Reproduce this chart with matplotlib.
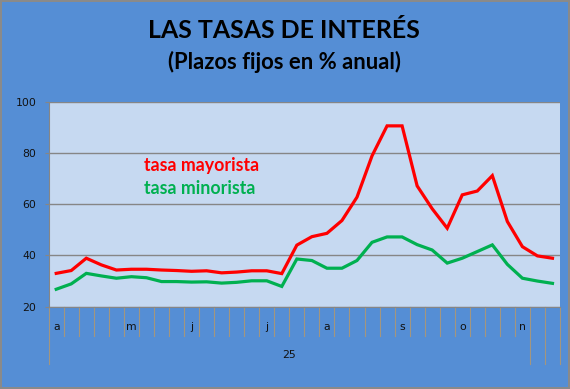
import matplotlib
matplotlib.use("Agg")
import matplotlib.pyplot as plt
from matplotlib.lines import Line2D

# ---- data ----
mayorista = [33.0, 34.1, 38.9, 36.3, 34.3, 34.6, 34.6, 34.3, 34.1, 33.8,
             34.0, 33.2, 33.5, 34.0, 34.0, 32.9, 44.0, 47.3, 48.6, 53.6,
             62.7, 78.8, 90.5, 90.5, 67.1, 58.2, 50.6, 63.6, 65.1, 71.1,
             53.2, 43.4, 39.8, 38.9]
minorista = [26.8, 28.9, 33.0, 32.0, 31.1, 31.7, 31.3, 29.8, 29.8, 29.6,
             29.7, 29.2, 29.5, 30.1, 30.1, 27.9, 38.6, 38.0, 35.0, 35.0,
             38.0, 45.1, 47.2, 47.2, 44.2, 42.1, 37.0, 38.9, 41.5, 44.1,
             36.5, 31.1, 30.0, 29.1]
month_labels = ['a', '', '', '', '', 'm', '', '', '', 'j', '', '', '', '', 'j', '', '', '',
                'a', '', '', '', '', 's', '', '', '', 'o', '', '', '', 'n', '', '']
year_label = '25'
year_span = (0, 31)
yticks = [20, 40, 60, 80, 100]
title = 'LAS TASAS DE INTERÉS'
subtitle = '(Plazos fijos en % anual)'
name_may = 'tasa mayorista'
name_min = 'tasa minorista'

BG = '#558ED5'
PLOT_BG = '#C6D9F1'
RED = '#FF0000'
GREEN = '#00B050'
GRID = '#868686'
TICKC = '#A3967F'

W, H = 570, 389
fig = plt.figure(figsize=(W / 100, H / 100), dpi=100)
fig.patch.set_facecolor(BG)
fig.patch.set_edgecolor('#8a8a8a')
fig.patch.set_linewidth(1.5)

left, right, top, bottom = 48.7, 560, 101.5, 306.7
ax = fig.add_axes([left / W, 1 - bottom / H, (right - left) / W, (bottom - top) / H])
ax.set_facecolor(PLOT_BG)

n = len(mayorista)
x = list(range(n))
ax.plot(x, mayorista, color=RED, lw=2.3, solid_joinstyle='miter', zorder=3)
ax.plot(x, minorista, color=GREEN, lw=2.3, solid_joinstyle='miter', zorder=3)

ax.set_xlim(-0.5, n - 0.5)
ax.set_ylim(20, 100)
ax.set_yticks(yticks)
ax.set_yticklabels([str(v) for v in yticks], fontsize=7.8, family='DejaVu Sans', color='#111111')
ax.tick_params(axis='y', length=3, color=GRID, pad=6)
ax.yaxis.grid(True, color=GRID, lw=1.0)
ax.set_axisbelow(True)
ax.set_xticks([])
for s in ['top', 'right']:
    ax.spines[s].set_visible(False)
ax.spines['left'].set_color(GRID)
ax.spines['bottom'].set_color(GRID)
ax.spines['left'].set_linewidth(0.8)
ax.spines['bottom'].set_linewidth(0.8)

# category axis labels and separators
axh = bottom - top
tr = ax.get_xaxis_transform()
for i, lab in enumerate(month_labels):
    if lab:
        ax.text(i, -20 / axh, lab, transform=tr, ha='center', va='center',
                fontsize=7.8, family='DejaVu Sans', color='#111111')
group_bounds = {year_span[0] - 0.5, year_span[1] + 0.5, n - 1.5, n - 0.5}
for k in range(n + 1):
    b = k - 0.5
    long_ = b in group_bounds
    y1 = -(57 if long_ else 29.5) / axh
    ax.add_line(Line2D([b, b], [0, y1], transform=tr, color=TICKC, lw=0.8, clip_on=False))
ax.text((year_span[0] + year_span[1]) / 2, -48 / axh, year_label, transform=tr,
        ha='center', va='center', fontsize=7.8, family='DejaVu Sans', color='#111111')

# series names
ax.text(144 / W, 1 - 165 / H, name_may, transform=fig.transFigure, color=RED,
        fontsize=12.8, fontweight='bold', family='Lato', va='center', ha='left')
ax.text(144 / W, 1 - 188 / H, name_min, transform=fig.transFigure, color=GREEN,
        fontsize=12.8, fontweight='bold', family='Lato', va='center', ha='left')

fig.text(284 / W, 1 - 30 / H, title, ha='center', va='center', fontsize=17.9,
         fontweight='bold', family='Lato', color='#000000')
fig.text(284.5 / W, 1 - 61.5 / H, subtitle, ha='center', va='center', fontsize=15.8,
         fontweight='bold', family='Lato', color='#000000')

fig.savefig('out.png', dpi=100, facecolor=BG, edgecolor='#8a8a8a')
